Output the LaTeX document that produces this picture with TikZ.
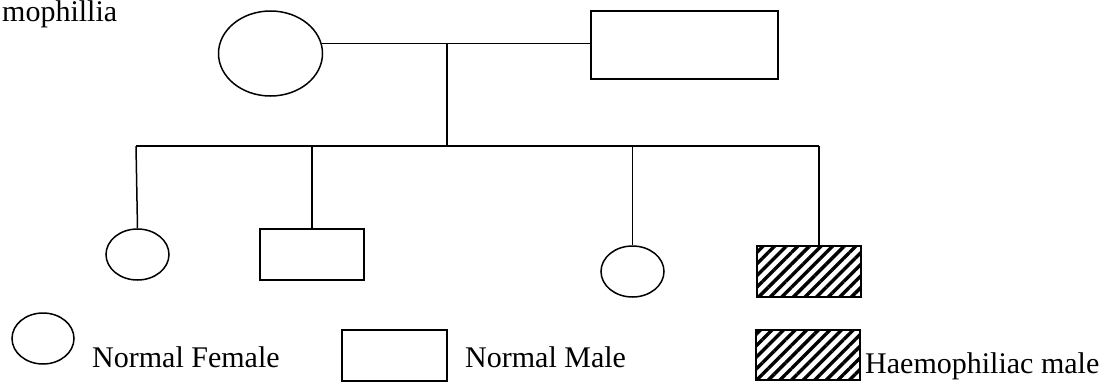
\documentclass[tikz,border=0pt]{standalone}
\usepackage{fontspec}
\setmainfont{Liberation Serif}
\usetikzlibrary{shapes.geometric,patterns.meta}
\begin{document}
\begin{tikzpicture}[x=1pt,y=-1pt,
  lw/.style={line width=1.5pt},
  femalenode/.style={ellipse,draw,lw,inner sep=0pt},
  malenode/.style={rectangle,draw,lw,inner sep=0pt},
  affected/.style={malenode,pattern={Lines[angle=45,distance=8.2pt,line width=3.4pt]}},
  label/.style={anchor=base west,inner sep=0pt,font=\fontsize{30}{36}\selectfont},
  conn/.style={lw}]
\useasboundingbox (0,0) rectangle (1112,383);

% title fragment
\node[label] (title) at (2,21) {mophillia};

% parents
\node[femalenode,minimum width=104pt,minimum height=85pt] (mother) at (270.5,53.5) {};
\node[malenode,minimum width=187pt,minimum height=68pt] (father) at (684.5,45) {};

% children
\node[femalenode,minimum width=63pt,minimum height=51pt] (c1) at (137.5,254.5) {};
\node[malenode,minimum width=104pt,minimum height=51pt] (c2) at (312,254.5) {};
\node[femalenode,minimum width=63pt,minimum height=51pt] (c3) at (632.5,271.5) {};
\node[affected,minimum width=104pt,minimum height=51pt] (c4) at (809,271.5) {};

% connectors
\coordinate (mid) at (447,44);
\coordinate (sibL) at (136,146);
\coordinate (sibR) at (819,146);
\coordinate (c4top) at (819,246);
\draw[conn] (mother.11) -- (mother.11 -| father.west);
\draw[conn] (mid) -- (mid |- sibL);
\draw[conn] (sibL) -- (sibR);
\draw[conn] (sibL) -- (c1.north);
\draw[conn] (c2.north |- sibL) -- (c2.north);
\draw[conn] (c3.north |- sibL) -- (c3.north);
\draw[conn] (sibR) -- (c4top);

% legend
\node[femalenode,minimum width=62pt,minimum height=51pt] (lf) at (43,338.5) {};
\node[label] (lft) at (92,367) {Normal Female};
\node[malenode,minimum width=105pt,minimum height=51pt] (lm) at (394.5,355.5) {};
\node[label] (lmt) at (465,367) {Normal Male};
\node[affected,minimum width=104pt,minimum height=50pt] (lh) at (808,355) {};
\node[label] (lht) at (865,373) {Haemophiliac male};
\end{tikzpicture}
\end{document}
